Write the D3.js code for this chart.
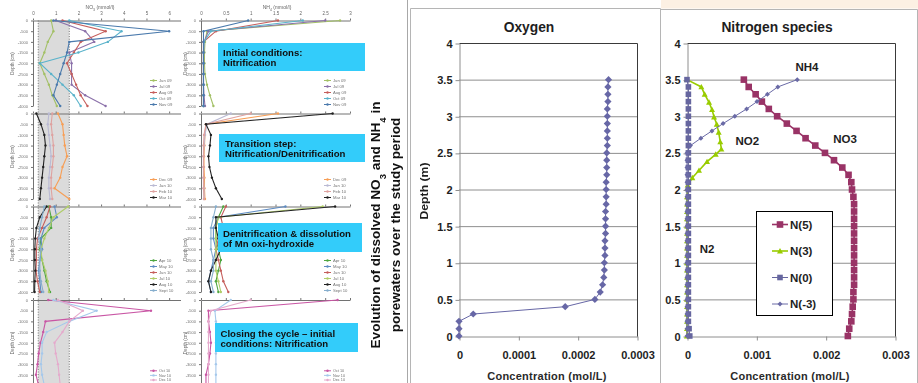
<!DOCTYPE html>
<html>
<head>
<meta charset="utf-8">
<script src="https://cdn.jsdelivr.net/npm/d3@7"></script>
<style>
  body { margin: 0; background: #fff; }
  svg { display: block; font-family: Arial, "Liberation Sans", sans-serif; }
</style>
</head>
<body>
<svg id="chart" width="918" height="383"></svg>
<script>
// ---------- data: model profiles (right) ----------
const depthM = [0,0.1,0.2,0.3,0.4,0.5,0.6,0.7,0.8,0.9,1,1.1,1.2,1.3,1.4,1.5,1.6,1.7,1.8,1.9,2,2.1,2.2,2.3,2.4,2.5,2.6,2.7,2.8,2.9,3,3.1,3.2,3.3,3.4,3.5];
const depthTicks = [0,0.5,1,1.5,2,2.5,3,3.5,4];
const oxTicks = [0,0.0001,0.0002,0.0003];
const nTicks = [0,0.001,0.002,0.003];

const oxygen = [0,0,0,0.000024,0.000179,0.000229,0.000238,0.000242,0.000244,0.000245,0.000245,0.000246,0.000246,0.000246,0.000247,0.000247,0.000247,0.000247,0.000248,0.000248,0.000248,0.000248,0.000249,0.000249,0.000249,0.000249,0.00025,0.00025,0.00025,0.00025,0.00025,0.00025,0.000251,0.000251,0.000251,0.000252];
const nitrate = [0.00232,0.00234,0.00237,0.00238,0.00239,0.0024,0.0024,0.00241,0.00241,0.00241,0.00241,0.00241,0.00241,0.00241,0.00241,0.00241,0.00241,0.00241,0.00241,0.0024,0.00238,0.00237,0.00233,0.00224,0.00212,0.00199,0.00185,0.00171,0.00158,0.00144,0.0013,0.00118,0.00108,0.00099,0.00089,0.00082];
const dinitrogen = [0.00004,0.00003,0.00002,0.00002,0.00002,0.00002,0.00002,0.00002,0.00002,0.00002,0.00002,0.00002,0.00002,0.00002,0.00002,0.00002,0.00002,0.00002,0.00002,0.00002,0.00002,0.00002,0.00002,0.00002,0.00002,0.00002,0.00002,0.00002,0.00002,0.00002,0.00002,0.00002,0.00002,0.00002,0.00002,0];
const ammonium = [0,0,0,0,0,0,0,0,0,0,0,0,0,0,0,0,0,0,0,0,0,0,0,0,0,0,0.00005,0.0002,0.00036,0.00052,0.00069,0.00086,0.00101,0.00116,0.00131,0.00159];
const nitriteDepth = [0,0.1,0.2,0.3,0.4,0.5,0.6,0.7,0.8,0.9,1,1.1,1.2,1.3,1.4,1.5,1.6,1.7,1.8,1.9,2.06,2.16,2.26,2.38,2.48,2.55,2.65,2.78,2.89,2.99,3.09,3.19,3.3,3.4,3.5];
const nitrite = [0,0,0,0,0,0,0,0,0,0,0,0,0,0,0,0,0,0,0,0,0.00001,0.000077,0.000173,0.000289,0.000414,0.000496,0.00048,0.000457,0.000429,0.00039,0.000361,0.000318,0.000255,0.000207,0];
const legendNames = ['N(5)','N(3)','N(0)','N(-3)'];

// ---------- data: field profiles (left) ----------
const fieldDepths = [0,500,1000,1500,2000,2500,3000,3500,4000];
const no3Ticks = [0,1,2,3,4,5,6];
const nh4Ticks = [0,0.5,1,1.5,2,2.5,3];
const no3Band = [0.23, 1.6];

const row1Names = ['Jun 09','Jul 09','Aug 09','Oct 09','Nov 09'];
const row1NO3 = [
  [0.8,0.9,0.65,0.5,0.3,0.5,0.7,0.85,1.05],
  [1.0,2.3,2.7,1.6,1.7,1.7,1.7,2.3,3.2],
  [1.3,3.2,2.1,1.8,1.5,1.7,1.9,2.1,2.4],
  [1.6,3.9,3.3,2.0,0.3,0.8,1.3,1.8,2.1],
  [0.9,6.0,1.6,1.5,1.35,1.2,1.05,0.9,1.2]];
const row1NH4 = [
  [2.8,0.12,0.08,0.07,0.07,0.08,0.12,0.18,0.25],
  [2.5,0.15,0.06,0.05,0.05,0.05,0.05,0.06,0.08],
  [1.55,0.3,0.05,0.05,0.05,0.05,0.05,0.05,0.05],
  [2.05,0.2,0.06,0.05,0.05,0.05,0.05,0.05,0.05],
  [0.95,0.05,0.05,0.05,0.05,0.05,0.05,0.05,0.05]];

const row2Names = ['Dec 09','Jan 10','Feb 10','Mar 10'];
const row2NO3 = [
  [1.1,1.3,1.35,1.4,1.5,1.3,1.2,0.95,1.6],
  [0.7,0.65,0.7,0.75,0.8,0.75,0.7,0.7,0.75],
  [0.85,0.8,0.85,0.9,0.9,0.85,0.8,0.8,0.85],
  [0.15,0.35,0.5,0.55,0.5,0.45,0.4,0.35,0.3]];
const row2NH4 = [
  [1.55,0.1,0.08,0.07,0.06,0.06,0.07,0.07,0.08],
  [0.6,0.12,0.08,0.06,0.05,0.05,0.05,0.06,0.06],
  [1.0,0.1,0.06,0.05,0.05,0.05,0.05,0.05,0.06],
  [2.65,0.1,0.2,0.18,0.15,0.17,0.22,0.3,0.42]];

const row3Names = ['Apr 10','May 10','Jun 10','Jul 10','Aug 10','Sept 10'];
const row3NO3 = [
  [0.7,0.8,0.8,0.35,0.3,0.4,0.5,0.6,0.75],
  [0.95,1.05,0.5,0.35,0.4,0.3,0.25,0.3,0.35],
  [0.75,0.6,0.4,0.2,0.15,0.15,0.13,0.2,0.3],
  [1.55,0.9,0.7,0.5,0.35,0.4,0.55,0.65,0.7],
  [0.6,0.3,0.15,0.1,0.08,0.08,0.1,0.08,0.07],
  [0.5,0.4,0.3,0.25,0.35,0.3,0.3,0.35,0.45]];
const row3NH4 = [
  [0.45,0.35,0.3,0.3,0.35,0.4,0.35,0.3,0.35],
  [1.7,0.35,0.25,0.25,0.3,0.25,0.2,0.15,0.2],
  [0.5,0.4,0.45,0.35,0.3,0.35,0.4,0.45,0.55],
  [2.45,0.35,0.3,0.3,0.3,0.3,0.3,0.35,0.4],
  [2.7,0.3,0.3,0.35,0.4,0.3,0.2,0.15,0.2],
  [0.3,0.25,0.2,0.2,0.2,0.25,0.25,0.2,0.25]];

const row4Names = ['Oct 10','Nov 10','Dec 10'];
const row4NO3 = [
  [0.67,5.2,0.55,0.45,0.33,0.25,0.2,0.13,0.25],
  [0.9,2.8,1.6,0.6,0.4,0.4,0.35,0.4,0.5],
  [1.1,2.2,1.6,1.3,0.95,1.0,1.1,1.15,1.2]];
const row4NH4 = [
  [2.75,0.15,0.15,0.18,0.2,0.18,0.15,0.1,0.1],
  [0.6,0.28,0.3,0.35,0.3,0.3,0.3,0.3,0.3],
  [1.0,0.2,0.15,0.15,0.15,0.15,0.15,0.15,0.15]];

const stageLines = [
  ['Initial conditions:','Nitrification'],
  ['Transition step:','Nitrification/Denitrification'],
  ['Denitrification & dissolution','of Mn oxi-hydroxide'],
  ['Closing the cycle \u2013 initial','conditions: Nitrification']];

// ---------- drawing ----------
const svg = d3.select('#chart');
const TXT = '#1e1e1e';

// soft filter for the pasted field plots
svg.append('defs').append('filter')
  .attr('id', 'soft').attr('filterUnits', 'userSpaceOnUse')
  .attr('x', 0).attr('y', 0).attr('width', 372).attr('height', 383)
  .append('feGaussianBlur').attr('stdDeviation', 0.5);

const left = svg.append('g').attr('filter', 'url(#soft)').attr('opacity', 0.92);
const xNO3 = d3.scaleLinear().domain([0, 6.5]).range([33, 180.5]);
const xNH4 = d3.scaleLinear().domain([0, 3]).range([201, 350]);
const rowTops = [20.5, 113.5, 206.5, 300];

// shaded band of the nitrate column
left.append('rect')
  .attr('x', xNO3(no3Band[0])).attr('y', rowTops[0])
  .attr('width', xNO3(no3Band[1]) - xNO3(no3Band[0])).attr('height', 383 - rowTops[0])
  .attr('fill', '#d8d8d8');
no3Band.forEach(v => {
  left.append('line')
    .attr('x1', xNO3(v)).attr('x2', xNO3(v)).attr('y1', rowTops[0]).attr('y2', 383)
    .attr('stroke', '#444').attr('stroke-width', 0.8).attr('stroke-dasharray', '1,1.6');
});

left.append('text').attr('x', 100).attr('y', 9).attr('text-anchor', 'middle')
  .attr('font-size', 5).attr('fill', '#555')
  .html('NO<tspan baseline-shift="sub" font-size="3.5">3</tspan> (mmol/l)');
left.append('text').attr('x', 277).attr('y', 9).attr('text-anchor', 'middle')
  .attr('font-size', 5).attr('fill', '#555')
  .html('NH<tspan baseline-shift="sub" font-size="3.5">4</tspan> (mmol/l)');

const rows = [
  { names: row1Names, no3: row1NO3, nh4: row1NH4, colors: ['#9bbb59','#8064a2','#c0504d','#4bacc6','#3a6ea5'] },
  { names: row2Names, no3: row2NO3, nh4: row2NH4, colors: ['#f79646','#b4b4d0','#dc9a98','#111111'] },
  { names: row3Names, no3: row3NO3, nh4: row3NH4, colors: ['#3f9e2e','#4f81bd','#c0504d','#a9c95c','#111111','#7ba7c9'] },
  { names: row4Names, no3: row4NO3, nh4: row4NH4, colors: ['#c4479c','#9ec4ea','#e3a3c8'] }
];

function fieldPanel(x, top, series, row, ri, labelX, legendX) {
  const y = d3.scaleLinear().domain([0, 4000]).range([top, top + 85.5]);
  const ticks = x === xNO3 ? no3Ticks : nh4Ticks;

  const ax = left.append('g').attr('transform', `translate(0,${top})`)
    .call(d3.axisTop(x).tickValues(ticks).tickSize(2).tickSizeOuter(0)
      .tickFormat(ri === 0 ? (d => d) : () => ''));
  ax.select('.domain').attr('stroke', '#666');
  ax.selectAll('.tick line').attr('stroke', '#666');
  ax.selectAll('.tick text').attr('font-size', 4.5).attr('fill', '#555').attr('dy', '-0.1em');

  // depth labels only where they fit inside the picture
  const shown = fieldDepths.filter(d => y(d) < 380);
  const ay = left.append('g').attr('transform', `translate(${x.range()[0]},0)`)
    .call(d3.axisLeft(y).tickValues(shown).tickSize(2).tickSizeOuter(0)
      .tickFormat(d => d ? '-' + d : '0'));
  ay.select('.domain').attr('stroke', '#666');
  ay.selectAll('.tick line').attr('stroke', '#666');
  ay.selectAll('.tick text').attr('font-size', 4).attr('fill', '#666');

  left.append('text')
    .attr('transform', `translate(${labelX},${top + 43}) rotate(-90)`)
    .attr('text-anchor', 'middle').attr('font-size', 4.5).attr('fill', '#555')
    .text('Depth (cm)');

  const line = d3.line().x(d => x(d[0])).y(d => y(d[1]));
  series.forEach((vals, si) => {
    const pts = vals.map((v, j) => [v, fieldDepths[j]]);
    left.append('path').attr('d', line(pts)).attr('fill', 'none')
      .attr('stroke', row.colors[si]).attr('stroke-width', 1.1);
    left.append('g').selectAll('circle').data(pts).join('circle')
      .attr('cx', d => x(d[0])).attr('cy', d => y(d[1])).attr('r', 1.2)
      .attr('fill', row.colors[si]);
  });

  // legend, bottom aligned in the panel (last row squeezed to stay in view)
  const n = row.names.length;
  const step = ri === 3 ? 4.6 : 6;
  const last = ri === 3 ? 380 : top + 84;
  row.names.forEach((name, si) => {
    const ly = last - (n - 1 - si) * step;
    left.append('line').attr('x1', legendX).attr('x2', legendX + 7)
      .attr('y1', ly).attr('y2', ly).attr('stroke', row.colors[si]).attr('stroke-width', 1);
    left.append('circle').attr('cx', legendX + 3.5).attr('cy', ly).attr('r', 1.2)
      .attr('fill', row.colors[si]);
    left.append('text').attr('x', legendX + 9).attr('y', ly + 1.4)
      .attr('font-size', ri === 3 ? 3.8 : 4.2).attr('fill', '#666').text(name);
  });
}

rows.forEach((row, ri) => {
  fieldPanel(xNO3, rowTops[ri], row.no3, row, ri, 14, 150);
  fieldPanel(xNH4, rowTops[ri], row.nh4, row, ri, 187, 324);
});

// cyan stage boxes
const boxes = [[218, 43, 147, 28], [219, 134, 146, 28], [218, 223, 144, 29], [215, 323, 143, 29]];
const boxText = [[223, 55.5], [225, 146.5], [223, 236.5], [220.5, 336.5]];
stageLines.forEach((lines, i) => {
  const b = boxes[i];
  svg.append('rect').attr('x', b[0]).attr('y', b[1]).attr('width', b[2]).attr('height', b[3])
    .attr('fill', '#33ccfa');
  lines.forEach((t, k) => {
    svg.append('text').attr('x', boxText[i][0]).attr('y', boxText[i][1] + k * 10)
      .attr('font-size', 9.6).attr('font-weight', 'bold').attr('fill', '#111').text(t);
  });
});

// rotated caption
svg.append('text')
  .attr('transform', 'translate(380,225) rotate(-90)')
  .attr('text-anchor', 'middle').attr('font-size', 13.6).attr('font-weight', 'bold').attr('fill', '#111')
  .html('Evolution of dissolved NO<tspan baseline-shift="sub" font-size="9.5">3</tspan> and NH<tspan baseline-shift="sub" font-size="9.5">4</tspan> in');
svg.append('text')
  .attr('transform', 'translate(400,225) rotate(-90)')
  .attr('text-anchor', 'middle').attr('font-size', 13.6).attr('font-weight', 'bold').attr('fill', '#111')
  .text('porewaters over the study period');

// frames of the model panels
svg.append('rect').attr('x', 661).attr('y', 0).attr('width', 257).attr('height', 8.5).attr('fill', '#fcf0e3');
svg.append('line').attr('x1', 407.5).attr('x2', 407.5).attr('y1', 0).attr('y2', 383).attr('stroke', '#a8a8a8');
svg.append('path').attr('d', 'M410.5,383V8.5H660.5V383').attr('fill', 'none').attr('stroke', '#b5b5b5');
svg.append('path').attr('d', 'M660.5,9.5H917.5V383').attr('fill', 'none').attr('stroke', '#b5b5b5');

const yDepth = d3.scaleLinear().domain([0, 4]).range([336, 43]);

const markers = {
  diamond: r => `M0,${-r}L${r},0L0,${r}L${-r},0Z`,
  square: r => `M${-r},${-r}h${2 * r}v${2 * r}h${-2 * r}Z`,
  triangle: r => `M0,${-r}L${r},${r * 0.8}L${-r},${r * 0.8}Z`
};

function panel(x, ticks, title, titleX) {
  const g = svg.append('g');
  const [x0, x1] = x.range();
  g.append('rect').attr('x', x0).attr('y', 43).attr('width', x1 - x0).attr('height', 293).attr('fill', '#fff');
  depthTicks.slice(1, -1).forEach(d => {
    g.append('line').attr('x1', x0).attr('x2', x1).attr('y1', yDepth(d) + 0.5).attr('y2', yDepth(d) + 0.5)
      .attr('stroke', '#8e8e8e');
  });
  const ay = g.append('g').attr('transform', `translate(${x0 + 0.5},0.5)`)
    .call(d3.axisLeft(yDepth).tickValues(depthTicks).tickSize(4).tickPadding(3).tickSizeOuter(0).tickFormat(d => d));
  const ax = g.append('g').attr('transform', `translate(0.5,${yDepth(0) + 0.5})`)
    .call(d3.axisBottom(x).tickValues(ticks).tickSize(4).tickPadding(11).tickSizeOuter(0).tickFormat(d => d));
  [ay, ax].forEach(a => {
    a.select('.domain').attr('stroke', '#8e8e8e');
    a.selectAll('.tick line').attr('stroke', '#8e8e8e');
    a.selectAll('.tick text').attr('font-size', 11).attr('font-weight', 'bold').attr('fill', TXT)
      .attr('font-family', 'Arial, "Liberation Sans", sans-serif');
  });
  g.append('path').attr('d', `M${x0 + 0.5},${43.5}H${x1 + 0.5}V${336.5}`)
    .attr('fill', 'none').attr('stroke', '#3a3a3a');
  svg.append('text').attr('x', titleX).attr('y', 32).attr('text-anchor', 'middle')
    .attr('font-size', 13.8).attr('font-weight', 'bold').attr('fill', TXT).text(title);
  svg.append('text').attr('x', (x0 + x1) / 2 - 1).attr('y', 379.5).attr('text-anchor', 'middle')
    .attr('font-size', 11).attr('font-weight', 'bold').attr('letter-spacing', 0.25).attr('fill', '#2a2a2a')
    .text('Concentration (mol/L)');
  return g;
}

function series(g, x, depths, vals, color, width, shape, r) {
  const pts = vals.map((v, i) => [v, depths[i]]);
  g.append('path').attr('d', d3.line().x(d => x(d[0])).y(d => yDepth(d[1]))(pts))
    .attr('fill', 'none').attr('stroke', color).attr('stroke-width', width);
  g.append('g').selectAll('path').data(pts).join('path')
    .attr('transform', d => `translate(${x(d[0])},${yDepth(d[1])})`)
    .attr('d', markers[shape](r)).attr('fill', color);
}

// Oxygen
const xOx = d3.scaleLinear().domain([0, 0.0003]).range([459, 637]);
const gOx = panel(xOx, oxTicks, 'Oxygen', 529);
series(gOx, xOx, depthM, oxygen, '#6767a6', 1, 'diamond', 3.6);
svg.append('text')
  .attr('transform', 'translate(428,191) rotate(-90)')
  .attr('text-anchor', 'middle').attr('font-size', 10.5).attr('font-weight', 'bold').attr('fill', TXT)
  .attr('textLength', 57).attr('lengthAdjust', 'spacingAndGlyphs')
  .text('Depth (m)');

// Nitrogen species
const xN = d3.scaleLinear().domain([0, 0.003]).range([687, 895]);
const gN = panel(xN, nTicks, 'Nitrogen species', 777);
const nColors = ['#993366', '#99cc00', '#66669f', '#6a6aa6'];
const nShapes = [['square', 3.3, 1.6], ['triangle', 3, 1.6], ['square', 2.8, 1], ['diamond', 2.5, 1]];
series(gN, xN, depthM, nitrate, nColors[0], nShapes[0][2], nShapes[0][0], nShapes[0][1]);
series(gN, xN, nitriteDepth, nitrite, nColors[1], nShapes[1][2], nShapes[1][0], nShapes[1][1]);
series(gN, xN, depthM, dinitrogen, nColors[2], nShapes[2][2], nShapes[2][0], nShapes[2][1]);
series(gN, xN, depthM, ammonium, nColors[3], nShapes[3][2], nShapes[3][0], nShapes[3][1]);

// species labels placed in data coordinates
[['NH4', 0.00173, 3.67], ['NO2', 0.00087, 2.66], ['NO3', 0.00228, 2.69], ['N2', 0.00029, 1.19]].forEach(l => {
  svg.append('text').attr('x', xN(l[1])).attr('y', yDepth(l[2]) + 4).attr('text-anchor', 'middle')
    .attr('font-size', 11.5).attr('font-weight', 'bold').attr('fill', TXT).text(l[0]);
});

// legend
const lg = svg.append('g');
lg.append('rect').attr('x', 756.5).attr('y', 211.5).attr('width', 76).attr('height', 104)
  .attr('fill', '#fff').attr('stroke', '#000');
legendNames.forEach((name, i) => {
  const ly = 224.5 + i * 26.5;
  lg.append('line').attr('x1', 772).attr('x2', 788).attr('y1', ly).attr('y2', ly)
    .attr('stroke', nColors[i]).attr('stroke-width', nShapes[i][2]);
  lg.append('path').attr('transform', `translate(780,${ly})`).attr('d', markers[nShapes[i][0]](nShapes[i][1]))
    .attr('fill', nColors[i]);
  lg.append('text').attr('x', 790).attr('y', ly + 4).attr('font-size', 11.5).attr('font-weight', 'bold')
    .attr('fill', TXT).text(name);
});
</script>
</body>
</html>
